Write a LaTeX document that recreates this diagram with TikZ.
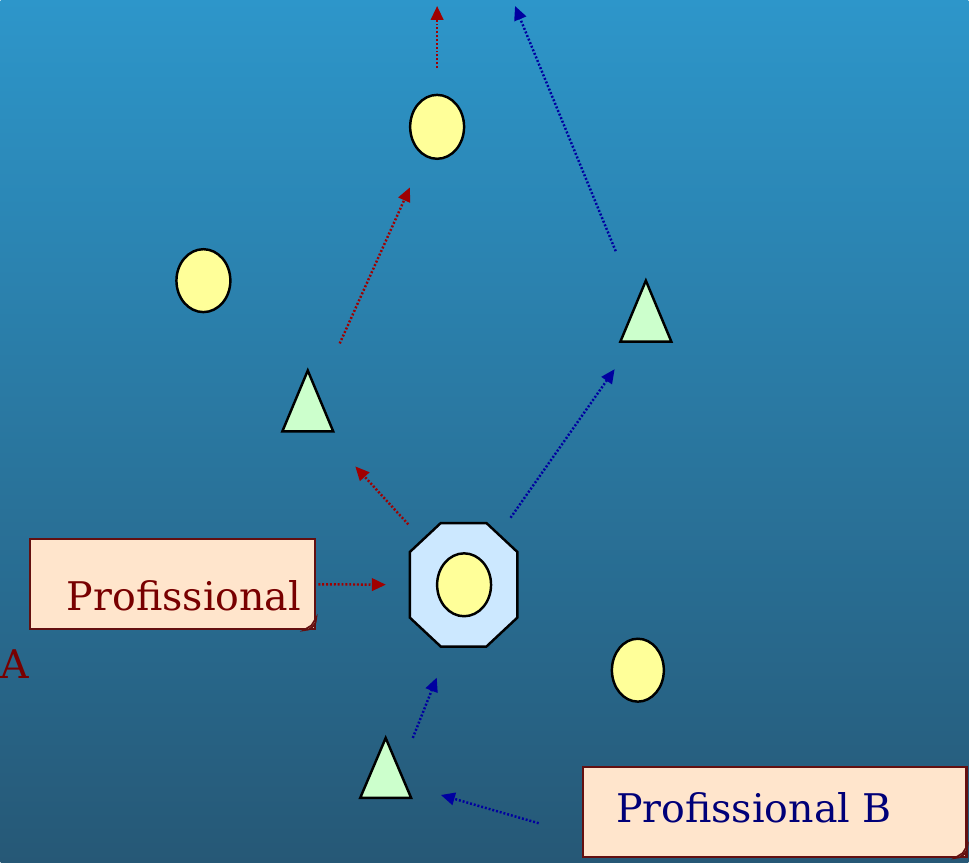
\documentclass[tikz,border=0pt]{standalone}
\usepackage{fontspec}
\setmainfont{DejaVu Serif}
\usetikzlibrary{shapes.geometric,arrows.meta,calc}

\definecolor{bgtop}{RGB}{45,150,202}
\definecolor{bgbot}{RGB}{38,88,118}
\definecolor{dotyellow}{RGB}{255,255,153}
\definecolor{trigreen}{RGB}{204,255,204}
\definecolor{octblue}{RGB}{204,232,255}
\definecolor{notefill}{RGB}{255,229,204}
\definecolor{noteline}{RGB}{100,16,16}
\definecolor{txtred}{RGB}{120,0,0}
\definecolor{txtblue}{RGB}{0,0,120}
\definecolor{arrred}{RGB}{160,0,0}
\definecolor{arrblue}{RGB}{0,0,160}

\begin{document}
\begin{tikzpicture}[x=0.02cm,y=-0.02cm,
   dot/.style={ellipse,draw,line width=1.4pt,fill=dotyellow,inner sep=0pt,
     minimum width=1.08cm,minimum height=1.26cm},
   tri/.style={isosceles triangle,shape border rotate=90,isosceles triangle stretches,
     draw,line width=1.4pt,fill=trigreen,inner sep=0pt,minimum width=1.02cm,minimum height=1.22cm},
   octo/.style={draw,line width=1.4pt,fill=octblue},
   note/.style={draw=noteline,line width=1.3pt,fill=notefill,inner sep=0pt,minimum height=1.8cm},
   fold/.style={draw=noteline,line width=0.9pt,fill=notefill!75!brown},
   label/.style={inner sep=0pt,font=\fontsize{22.5}{27}\selectfont},
   redarr/.style={color=arrred,line width=1.4pt,dash pattern=on 1.1pt off 1.1pt,
     -{Triangle[length=0.28cm,width=0.25cm]}},
   bluearr/.style={color=arrblue,line width=1.4pt,dash pattern=on 1.1pt off 1.1pt,
     -{Triangle[length=0.28cm,width=0.25cm]}}]
  \shade[top color=bgtop,bottom color=bgbot] (0,0) rectangle (969,864);
  % shapes
  \node[inner sep=0pt,minimum width=2.14cm,minimum height=2.46cm] (oct) at (463.5,585.5) {};
  \draw[octo] ($(oct.north west)+(31,0)$) -- ($(oct.north east)+(-31,0)$)
    -- ($(oct.north east)+(0,29)$) -- ($(oct.south east)+(0,-29)$)
    -- ($(oct.south east)+(-31,0)$) -- ($(oct.south west)+(31,0)$)
    -- ($(oct.south west)+(0,-29)$) -- ($(oct.north west)+(0,29)$) -- cycle;
  \node[dot] (cin) at (464,585.5) {};
  \node[dot,minimum height=1.28cm] (ctop) at (437,127) {};
  \node[dot] (cleft) at (203,281) {};
  \node[dot,minimum width=1.04cm] (cright) at (638,671) {};
  \node[tri] (t1) at (307.5,415) {};
  \node[tri] (t2) at (646,325) {};
  \node[tri,minimum height=1.2cm] (t3) at (385.5,782) {};
  % notes
  \node[note,minimum width=5.72cm] (notea) at (172,585) {};
  \node[label,text=txtred,anchor=base east] (profa) at ($(notea.south east)+(-15,-20)$) {Profissional};
  \node[label,text=txtred,anchor=base west] (lettera) at (-1,679) {A};
  \node[note,minimum width=7.68cm] (noteb) at (775,813) {};
  \node[label,text=txtblue,anchor=base west] (profb) at ($(noteb.south west)+(34,-36)$) {Profissional B};
  \foreach \n in {notea,noteb} {\filldraw[fold] ($(\n.south east)+(-13,0)$) to[bend right=50]
    ($(\n.south east)+(0,-13)$) -- ($(\n.south east)+(-5,-5)$) -- cycle;}
  \coordinate (topa) at (437,6);
  \coordinate (topb) at (515,6);
  % connectors
  \draw[redarr,shorten <=0.04cm,shorten >=0.48cm] (notea.east) -- (oct.west);
  \draw[redarr,shorten <=1.64cm,shorten >=1.41cm] (oct.center) -- (t1.center);
  \draw[redarr,shorten <=1.56cm,shorten >=1.33cm] (t1.center) -- (ctop.center);
  \draw[redarr,shorten <=1.18cm] (ctop.center) -- (topa);
  \draw[bluearr,shorten <=1.64cm,shorten >=1.09cm] (oct.center) -- (t2.center);
  \draw[bluearr,shorten <=1.59cm] (t2.center) -- (topb);
  \draw[bluearr,shorten <=0.93cm,shorten >=2cm] ($(t3.center)+(10,0)$) -- ($(oct.center)+(10,0)$);
  \draw[bluearr,shorten <=0.9cm,shorten >=1.15cm] (noteb.187) -- ($(t3.center)+(0,-2)$);
\end{tikzpicture}
\end{document}
